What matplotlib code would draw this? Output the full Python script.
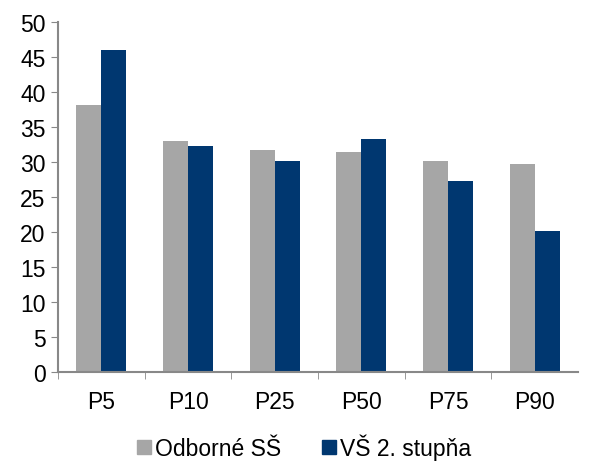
import numpy as np
import matplotlib.pyplot as plt
from matplotlib.patches import Patch

plt.rcParams['font.family'] = ['Liberation Sans', 'DejaVu Sans']

cats = ["P5", "P10", "P25", "P50", "P75", "P90"]
odborne = [38.1, 33.0, 31.8, 31.5, 30.1, 29.7]   # Odborné SŠ
vs2 = [46.0, 32.3, 30.1, 33.3, 27.3, 20.1]       # VŠ 2. stupňa

gray = "#A6A6A6"
blue = "#003770"

fig = plt.figure(figsize=(6.03, 4.64), dpi=100)
ax = fig.add_axes([0.0962, 0.196, 0.8623, 0.754])

x = np.arange(len(cats))
w = 0.288
ax.bar(x - w/2, odborne, w, color=gray)
ax.bar(x + w/2, vs2, w, color=blue)

ax.set_xlim(-0.5, len(cats) - 0.5)
ax.set_ylim(0, 50)
ax.set_yticks(np.arange(0, 51, 5))
ax.set_xticks(x)
ax.set_xticklabels(cats)
ax.set_xticks(np.arange(-0.5, len(cats) - 0.5, 1), minor=True)
ax.tick_params(axis='x', which='major', length=0, pad=13, labelsize=16.5)
ax.tick_params(axis='x', which='minor', length=5, color="#888888", direction='out')
ax.tick_params(axis='y', length=5, color="#888888", labelsize=16.5, pad=4)

for s in ["top", "right"]:
    ax.spines[s].set_visible(False)
for s in ["left", "bottom"]:
    ax.spines[s].set_color("#888888")
    ax.spines[s].set_linewidth(1.5)

handles = [Patch(color=gray, label="Odborné SŠ"), Patch(color=blue, label="VŠ 2. stupňa")]
fig.legend(handles=handles, loc="center", bbox_to_anchor=(0.504, 0.035), ncol=2,
           frameon=False, fontsize=16.5, handlelength=0.62, handleheight=0.62,
           handletextpad=0.17, columnspacing=1.8)

fig.savefig("out.png", dpi=100)
